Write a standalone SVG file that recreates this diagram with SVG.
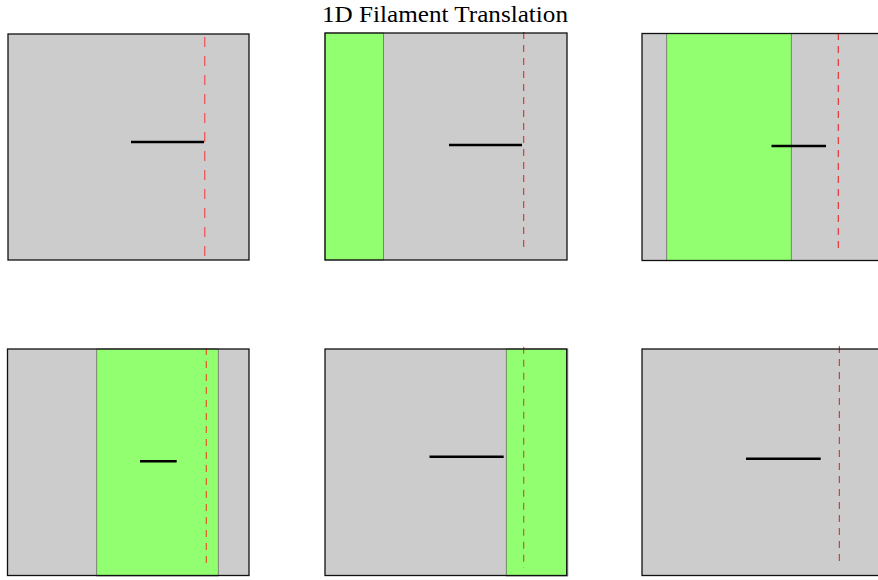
<svg xmlns="http://www.w3.org/2000/svg" width="878" height="580" viewBox="0 0 878 580">
<style>
.bg{fill:#cccccc;stroke:none}
.frame{fill:none;stroke:#111;stroke-width:1.3}
.band{fill:#91ff6f;stroke:#555;stroke-width:0.8;stroke-opacity:0.8}
.cut{stroke:#e8262b;stroke-width:1.1;stroke-dasharray:7,6;fill:none}
.fil{stroke:#000;stroke-width:2.6;fill:none}
.title{font-family:"Liberation Serif","Times New Roman",serif;font-size:24px;fill:#000}
</style>
<rect width="878" height="580" fill="#fff"/>
<text class="title" x="445" y="22" text-anchor="middle" textLength="246" lengthAdjust="spacingAndGlyphs">1D Filament Translation</text>
<g id="panel1">
<rect class="bg" x="8" y="34" width="241" height="226"/>
<line class="cut" x1="204.7" y1="37" x2="204.7" y2="257" style="stroke:#e86060;stroke-width:1.4;stroke-dasharray:10,9"/>
<line class="fil" x1="131" y1="142" x2="204" y2="142"/>
<rect class="frame" x="8" y="34" width="241" height="226"/>
</g>
<g id="panel2">
<rect class="bg" x="325" y="33" width="242" height="227"/>
<rect class="band" x="325" y="33" width="58.5" height="227"/>
<line class="cut" x1="523.7" y1="32" x2="523.7" y2="253"/>
<line class="fil" x1="449" y1="145" x2="522" y2="145"/>
<rect class="frame" x="325" y="33" width="242" height="227"/>
</g>
<g id="panel3">
<rect class="bg" x="642" y="33.5" width="241" height="227"/>
<rect class="band" x="666.7" y="33.5" width="124.6" height="227"/>
<line class="cut" x1="838.3" y1="33" x2="838.3" y2="253"/>
<line class="fil" x1="771.5" y1="146" x2="826" y2="146"/>
<rect class="frame" x="642" y="33.5" width="241" height="227"/>
</g>
<g id="panel4">
<rect class="bg" x="7.5" y="349" width="241.5" height="226.5"/>
<rect class="band" x="96.7" y="349" width="121.6" height="227"/>
<line class="cut" x1="206.3" y1="348" x2="206.3" y2="568" style="stroke:#e84a20"/>
<line class="fil" x1="140" y1="461.3" x2="176.7" y2="461.3"/>
<rect class="frame" x="7.5" y="349" width="241.5" height="226.5"/>
</g>
<g id="panel5">
<rect class="bg" x="325" y="349" width="241.7" height="226.5"/>
<rect class="band" x="506.3" y="349" width="61.5" height="227"/>
<line class="cut" x1="523.7" y1="346.7" x2="523.7" y2="568" style="stroke:#d84a20"/>
<line class="fil" x1="429.5" y1="456.7" x2="503.7" y2="456.7"/>
<rect class="frame" x="325" y="349" width="241.7" height="226.5"/>
</g>
<g id="panel6">
<rect class="bg" x="642" y="349" width="241" height="226.5"/>
<line class="cut" x1="839.3" y1="346" x2="839.3" y2="567" style="stroke:#d02020;stroke-width:1"/>
<line class="fil" x1="746" y1="458.7" x2="820.7" y2="458.7"/>
<rect class="frame" x="642" y="349" width="241" height="226.5"/>
</g>
<g id="connectors"></g>
</svg>
